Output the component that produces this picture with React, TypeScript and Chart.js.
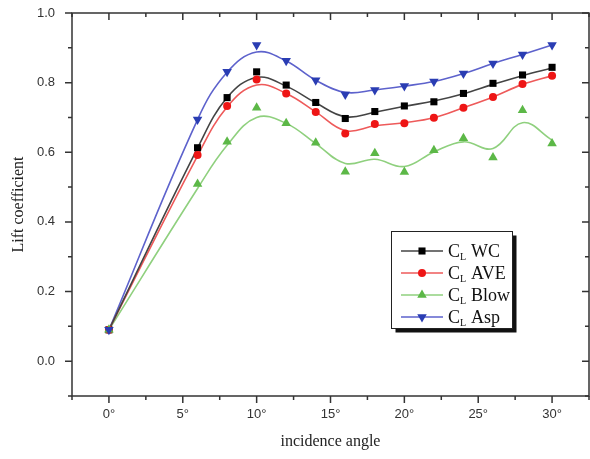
import React, { useEffect, useRef } from 'react';
import { Chart, registerables } from 'chart.js';
Chart.register(...registerables);

// incidence angles (degrees)
const angles = [0, 6, 8, 10, 12, 14, 16, 18, 20, 22, 24, 26, 28, 30];

// measured points
const wcPoints = [0.09, 0.613, 0.757, 0.831, 0.793, 0.743, 0.697, 0.717, 0.733, 0.745, 0.769, 0.798, 0.822, 0.844];
const avePoints = [0.09, 0.592, 0.733, 0.809, 0.769, 0.716, 0.654, 0.681, 0.683, 0.699, 0.728, 0.759, 0.796, 0.82];
const blowPoints = [0.09, 0.509, 0.63, 0.728, 0.683, 0.627, 0.544, 0.597, 0.543, 0.606, 0.64, 0.585, 0.721, 0.625];
const aspPoints = [0.09, 0.694, 0.831, 0.908, 0.863, 0.807, 0.766, 0.779, 0.79, 0.803, 0.826, 0.855, 0.881, 0.908];

// fitted curve values at the same angles
const wcFit = [0.09, 0.612, 0.757, 0.815, 0.79, 0.742, 0.702, 0.715, 0.732, 0.747, 0.768, 0.795, 0.82, 0.842];
const aveFit = [0.09, 0.59, 0.73, 0.793, 0.769, 0.716, 0.662, 0.676, 0.685, 0.699, 0.728, 0.759, 0.795, 0.82];
const blowFit = [0.09, 0.496, 0.62, 0.7, 0.683, 0.625, 0.568, 0.58, 0.559, 0.601, 0.63, 0.611, 0.685, 0.635];
const aspFit = [0.09, 0.694, 0.83, 0.888, 0.862, 0.807, 0.772, 0.779, 0.79, 0.803, 0.826, 0.855, 0.881, 0.908];

const seriesNames = ['WC', 'AVE', 'Blow', 'Asp'];

const xMajor = [0, 5, 10, 15, 20, 25, 30];
const xMinor = [-2.5, 2.5, 7.5, 12.5, 17.5, 22.5, 27.5, 32.5];
const yMajor = [0, 0.2, 0.4, 0.6, 0.8, 1.0];
const yMinor = [-0.1, 0.1, 0.3, 0.5, 0.7, 0.9];

const styles = [
  { line: '#444444', mark: '#000000', style: 'rect', radius: 5, rotation: 0 },
  { line: '#ee5a5a', mark: '#ee1515', style: 'circle', radius: 4, rotation: 0 },
  { line: '#8fd07e', mark: '#5cb847', style: 'triangle', radius: 5.5, rotation: 0 },
  { line: '#5d62cc', mark: '#2a3db3', style: 'triangle', radius: 5.5, rotation: 180 },
];

const pointsList = [wcPoints, avePoints, blowPoints, aspPoints];
const fitList = [wcFit, aveFit, blowFit, aspFit];

function drawMarker(ctx: CanvasRenderingContext2D, style: string, x: number, y: number, r: number, rot: number, color: string) {
  ctx.save();
  ctx.fillStyle = color;
  ctx.beginPath();
  if (style === 'rect') {
    const s = Math.SQRT1_2 * r;
    ctx.rect(x - s, y - s, 2 * s, 2 * s);
  } else if (style === 'circle') {
    ctx.arc(x, y, r, 0, Math.PI * 2);
  } else {
    let rad = (rot * Math.PI) / 180;
    ctx.moveTo(x + Math.sin(rad) * r, y - Math.cos(rad) * r);
    rad += (2 * Math.PI) / 3;
    ctx.lineTo(x + Math.sin(rad) * r, y - Math.cos(rad) * r);
    rad += (2 * Math.PI) / 3;
    ctx.lineTo(x + Math.sin(rad) * r, y - Math.cos(rad) * r);
    ctx.closePath();
  }
  ctx.fill();
  ctx.restore();
}

const framePlugin = {
  id: 'frameTicks',
  afterDraw(chart: any) {
    const { ctx, chartArea } = chart;
    const { left, right, top, bottom } = chartArea;
    const xs = chart.scales.x;
    const ys = chart.scales.y;
    ctx.save();
    ctx.strokeStyle = '#333333';
    ctx.lineWidth = 1.5;
    ctx.strokeRect(left, top, right - left, bottom - top);
    ctx.beginPath();
    const major = 7;
    const minor = 4;
    for (const v of xMajor) {
      const px = xs.getPixelForValue(v);
      ctx.moveTo(px, bottom); ctx.lineTo(px, bottom + major);
      ctx.moveTo(px, top); ctx.lineTo(px, top + major);
    }
    for (const v of xMinor) {
      const px = xs.getPixelForValue(v);
      ctx.moveTo(px, bottom); ctx.lineTo(px, bottom + minor);
      ctx.moveTo(px, top); ctx.lineTo(px, top + minor);
    }
    for (const v of yMajor) {
      const py = ys.getPixelForValue(v);
      ctx.moveTo(left, py); ctx.lineTo(left - major, py);
      ctx.moveTo(right, py); ctx.lineTo(right - major, py);
    }
    for (const v of yMinor) {
      const py = ys.getPixelForValue(v);
      ctx.moveTo(left, py); ctx.lineTo(left - minor, py);
      ctx.moveTo(right, py); ctx.lineTo(right - minor, py);
    }
    ctx.stroke();

    // legend box
    const bx = 391.5, by = 231.5, bw = 121, bh = 97;
    ctx.fillStyle = '#111111';
    ctx.fillRect(bx + 4, by + 4, bw, bh);
    ctx.fillStyle = '#ffffff';
    ctx.fillRect(bx, by, bw, bh);
    ctx.lineWidth = 1;
    ctx.strokeStyle = '#222222';
    ctx.strokeRect(bx, by, bw, bh);
    const rowY = [251, 273, 295, 317];
    seriesNames.forEach((name, i) => {
      const st = styles[i];
      const y = rowY[i];
      ctx.strokeStyle = st.line;
      ctx.lineWidth = 1.5;
      ctx.beginPath();
      ctx.moveTo(401, y); ctx.lineTo(443, y);
      ctx.stroke();
      drawMarker(ctx, st.style, 422, y, st.radius, st.rotation, st.mark);
      ctx.fillStyle = '#111111';
      ctx.textBaseline = 'alphabetic';
      ctx.textAlign = 'left';
      ctx.font = '18px "Liberation Serif", "Times New Roman", serif';
      ctx.fillText('C', 448, y + 6);
      ctx.font = '10px "Liberation Serif", "Times New Roman", serif';
      ctx.fillText('L', 460, y + 9);
      ctx.font = '18px "Liberation Serif", "Times New Roman", serif';
      ctx.fillText(name, 471, y + 6);
    });
    ctx.restore();
  },
};

export default function App() {
  const ref = useRef<HTMLCanvasElement | null>(null);
  useEffect(() => {
    if (!ref.current) return;
    const datasets: any[] = [];
    for (let i = 0; i < 4; i++) {
      const st = styles[i];
      datasets.push({
        label: seriesNames[i] + ' fit',
        data: angles.map((a, k) => ({ x: a, y: fitList[i][k] })),
        borderColor: st.line,
        borderWidth: 1.6,
        pointRadius: 0,
        tension: 0.4,
        fill: false,
        order: 10,
      });
    }
    for (let i = 0; i < 4; i++) {
      const st = styles[i];
      datasets.push({
        label: 'C_L ' + seriesNames[i],
        data: angles.map((a, k) => ({ x: a, y: pointsList[i][k] })),
        showLine: false,
        pointStyle: st.style,
        pointRadius: st.radius,
        pointRotation: st.rotation,
        pointBackgroundColor: st.mark,
        pointBorderColor: st.mark,
        pointBorderWidth: 0,
        order: 4 - i,
      });
    }
    const tickFont = { family: '"Liberation Sans", Arial, sans-serif', size: 13 };
    const titleFont = { family: '"Liberation Serif", "Times New Roman", serif', size: 16 };
    const chart = new Chart(ref.current, {
      type: 'line',
      data: { datasets },
      plugins: [framePlugin],
      options: {
        animation: false,
        responsive: false,
        layout: { autoPadding: false, padding: { top: 13, right: 1, left: 0, bottom: 0 } },
        plugins: { legend: { display: false }, tooltip: { enabled: false } },
        scales: {
          x: {
            type: 'linear',
            min: -2.5,
            max: 32.5,
            grid: { display: false, drawTicks: false },
            border: { display: false },
            afterBuildTicks: (s: any) => { s.ticks = xMajor.map((v) => ({ value: v })); },
            afterFit: (s: any) => {
              s.height = 63;
              s.paddingLeft = 0; s.paddingRight = 0; s.paddingTop = 0; s.paddingBottom = 0;
            },
            ticks: {
              color: '#333333',
              font: tickFont,
              padding: 11,
              maxRotation: 0,
              callback: (v: any) => v + '°',
            },
            title: {
              display: true,
              text: 'incidence angle',
              color: '#222222',
              font: titleFont,
              padding: { top: 0, bottom: 8 },
            },
          },
          y: {
            type: 'linear',
            min: -0.1,
            max: 1.0,
            grid: { display: false, drawTicks: false },
            border: { display: false },
            afterBuildTicks: (s: any) => { s.ticks = yMajor.map((v) => ({ value: v })); },
            afterFit: (s: any) => {
              s.width = 72;
              s.paddingLeft = 0; s.paddingRight = 0; s.paddingTop = 0; s.paddingBottom = 0;
            },
            ticks: {
              color: '#333333',
              font: tickFont,
              padding: 17,
              callback: (v: any) => Number(v).toFixed(1),
            },
            title: {
              display: true,
              text: 'Lift coefficient',
              color: '#222222',
              font: titleFont,
              padding: { top: 9, bottom: 0 },
            },
          },
        },
      },
    });
    return () => chart.destroy();
  }, []);
  return (
    <div style={{ position: 'fixed', left: 0, top: 0, width: 590, height: 459, background: '#fff' }}>
      <canvas ref={ref} width={590} height={459} />
    </div>
  );
}
